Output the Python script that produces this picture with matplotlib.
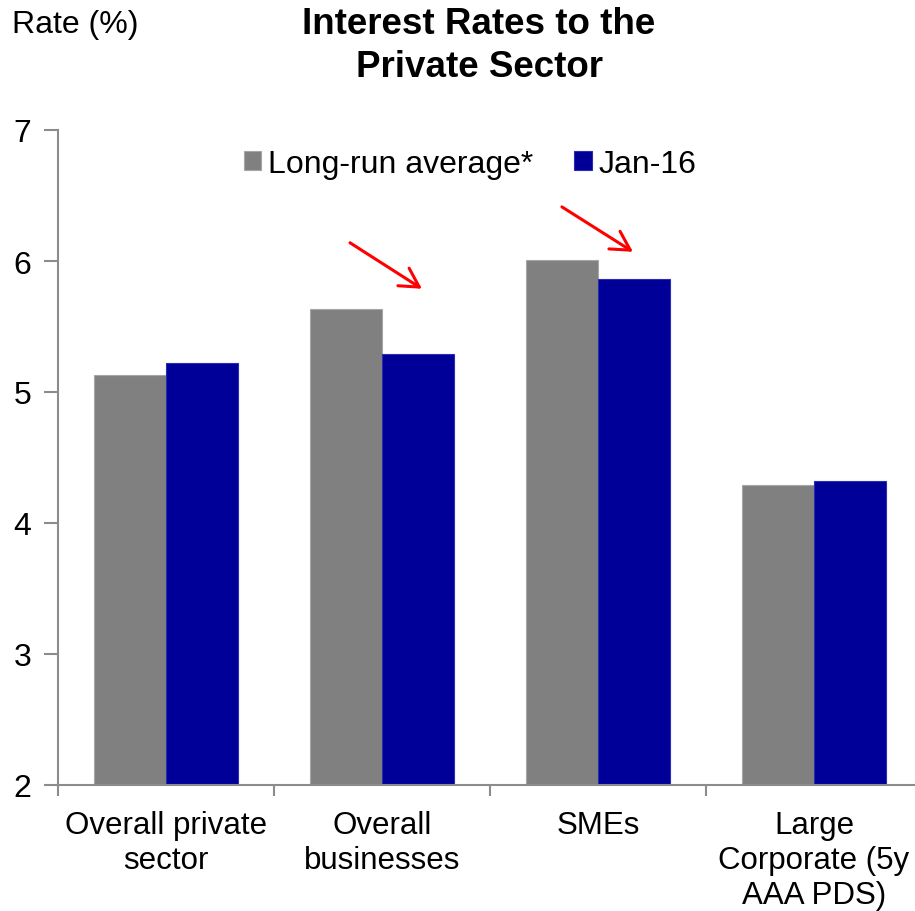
import matplotlib
matplotlib.use("Agg")
import matplotlib.pyplot as plt
import numpy as np

plt.rcParams['font.family'] = ['Liberation Sans', 'DejaVu Sans']

categories = ["Overall private\nsector", "Overall\nbusinesses", "SMEs",
              "Large\nCorporate (5y\nAAA PDS)"]
long_run_avg = [5.13, 5.63, 6.01, 4.29]
jan_16 = [5.22, 5.29, 5.86, 4.32]
series_names = ["Long-run average*", "Jan-16"]
yticks = [2, 3, 4, 5, 6, 7]

gray = "#808080"
navy = "#000099"
axis_gray = "#8c8c8c"

W, H = 915, 912
fig = plt.figure(figsize=(W / 100, H / 100), dpi=100)
ax_left, ax_right = 58 / W, 922 / W
ax_bottom, ax_top = 1 - 786 / H, 1 - 131 / H
ax = fig.add_axes([ax_left, ax_bottom, ax_right - ax_left, ax_top - ax_bottom])

x = np.arange(len(categories))
bw = 1 / 3
ax.bar(x - bw / 2, np.array(long_run_avg) - 2, bw, bottom=2, color=gray,
       edgecolor="#a6a6a6", linewidth=0.8, label=series_names[0], zorder=2)
ax.bar(x + bw / 2, np.array(jan_16) - 2, bw, bottom=2, color=navy,
       edgecolor="#2b2bb0", linewidth=0.8, label=series_names[1], zorder=2)

ax.set_xlim(-0.5, len(categories) - 0.5)
ax.set_ylim(2, 7)
ax.set_yticks(yticks)
ax.set_yticklabels([str(v) for v in yticks])

# category boundaries carry the x ticks, labels sit at category centres
ax.set_xticks(np.arange(len(categories)) - 0.5)
ax.set_xticklabels([])
ax.tick_params(axis='x', which='major', direction='out', length=8, width=1.5,
               color=axis_gray)
ax.set_xticks(x, minor=True)
ax.set_xticklabels(categories, minor=True, fontsize=22.5, linespacing=1.22)
ax.tick_params(axis='x', which='minor', length=0, pad=18)
ax.tick_params(axis='y', direction='out', length=10, width=1.5, color=axis_gray,
               labelsize=23, pad=9)

for side in ("top", "right"):
    ax.spines[side].set_visible(False)
for side in ("left", "bottom"):
    ax.spines[side].set_color(axis_gray)
    ax.spines[side].set_linewidth(1.5)

fig.text(12 / W, 1 - 25 / H, "Rate (%)", fontsize=23, ha="left", va="center")
fig.text(479 / W, 1 - 46 / H, "Interest Rates to the\nPrivate Sector",
         fontsize=26.5, fontweight="bold", ha="center", va="center",
         linespacing=1.3)

ax.legend(loc="center", bbox_to_anchor=(470 / W, 1 - 165 / H),
          bbox_transform=fig.transFigure, ncol=2, frameon=False, fontsize=23,
          handlelength=0.55, handleheight=0.55, handletextpad=0.2,
          columnspacing=1.3, borderpad=0)

# red arrows pointing at the declines
arrow_kw = dict(arrowstyle="->,head_length=1.35,head_width=0.75", color="red",
                lw=2.2, shrinkA=0, shrinkB=0)
ax.annotate("", xy=(1.185, 5.788), xytext=(0.852, 6.139), arrowprops=arrow_kw)
ax.annotate("", xy=(2.162, 6.07), xytext=(1.833, 6.413), arrowprops=arrow_kw)

fig.savefig("out.png", dpi=100)
